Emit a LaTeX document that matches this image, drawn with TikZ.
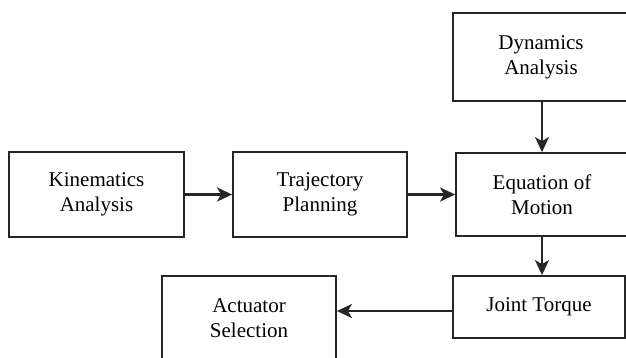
\documentclass[tikz,border=0pt]{standalone}
\usepackage{fontspec}
\setmainfont{Liberation Serif}
\usetikzlibrary{arrows.meta}

\begin{document}
\begin{tikzpicture}[x=1pt,y=-1pt,
    block/.style={draw=black!85,line width=1.8pt,align=center,
      font=\fontsize{21}{25}\selectfont,inner sep=0pt},
    arr/.style={draw=black!85,line width=2.6pt,
      -{Stealth[length=15pt,width=14pt,inset=4pt]}}]

% frame of the picture
\clip (0,0) rectangle (626,357);

% Blocks
\node[block,minimum width=175pt,minimum height=85pt] (kin) at (96.5,194.5) {Kinematics\\Analysis};
\node[block,minimum width=174pt,minimum height=85pt] (traj) at (320,194.5) {Trajectory\\Planning};
\node[block,minimum width=176pt,minimum height=88pt] (dyn) at (541,57) {Dynamics\\Analysis};
\node[block,minimum width=172pt,minimum height=83pt] (eq) at (542,194.5) {Equation of\\Motion};
\node[block,minimum width=172pt,minimum height=62pt] (joint) at (539,307) {Joint Torque};
\node[block,minimum width=174pt,minimum height=85pt] (act) at (249,318.5) {Actuator\\Selection};

% Connections
\draw[arr] (kin) -- (traj);
\draw[arr] (traj) -- (eq);
\draw[arr] (dyn.south -| eq.north) -- (eq.north);
\draw[arr] (eq.south) -- (eq.south |- joint.north);
\draw[arr] ([yshift=-4pt]joint.west) -- ([yshift=-4pt]joint.west -| act.east);

\end{tikzpicture}
\end{document}
